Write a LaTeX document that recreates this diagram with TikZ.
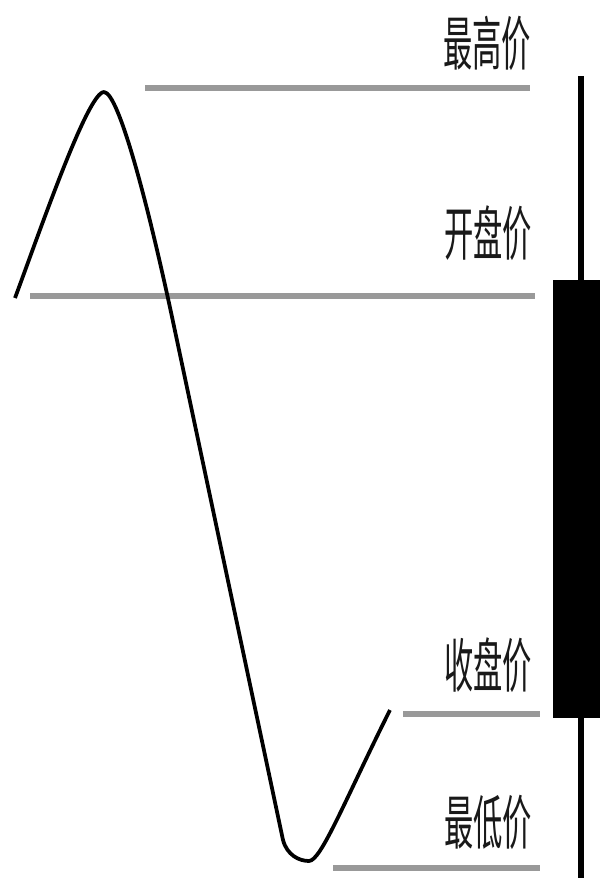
\documentclass[tikz,border=0pt]{standalone}
\usepackage{fontspec}
\newfontfamily\cjk{Noto Sans CJK SC}

\begin{document}
\begin{tikzpicture}[
      x=0.03cm, y=-0.03cm,                       % 1 unit = 1 px, y downwards
      level/.style={line width=4.5pt, black!40},  % grey price levels
      pricetag/.style={font=\cjk\fontsize{50}{50}\selectfont,
                       text=black!90, inner sep=0pt},
      wave/.style={line width=3.2pt, line join=round},
    ]
    % Helper macro: \narrow{text} -- tall, condensed characters
    \newcommand{\narrow}[1]{\scalebox{0.5}[1]{#1}}

    \useasboundingbox (0,0) rectangle (600,884);

    % Labels
    \node[pricetag] (high)  at (487, 43)  {\narrow{最高价}};
    \node[pricetag] (open)  at (488, 233) {\narrow{开盘价}};
    \node[pricetag] (close) at (488, 665) {\narrow{收盘价}};
    \node[pricetag] (low)   at (488, 822) {\narrow{最低价}};

    % Price levels
    \draw[level] (145, 88)  -- (530, 88);
    \draw[level] (30, 296)  -- (535, 296);
    \draw[level] (403, 714) -- (540, 714);
    \draw[level] (333, 868) -- (540, 868);

    % Price path
    \draw[wave] (15,298) .. controls (42,225) and (88,92) .. (104,92)
      .. controls (119,92) and (150,212) .. (175,331) -- (283,840)
      .. controls (287,855) and (299,861) .. (309,861)
      .. controls (321,861) and (345,800) .. (390,710);

    % Candle
    \draw[line width=4.5pt] (581,76) -- (581,878);
    \fill (553,280) rectangle (600,718);
  \end{tikzpicture}
\end{document}
